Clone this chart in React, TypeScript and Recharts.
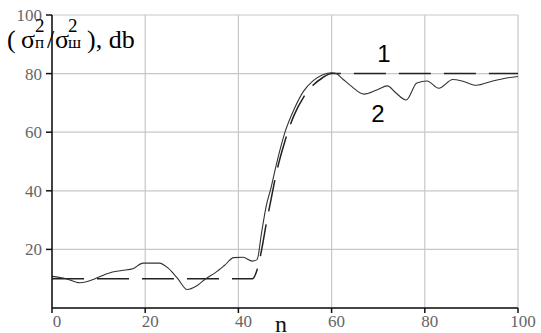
import { LineChart, Line, XAxis, YAxis, CartesianGrid } from "recharts";

// curve 1 (dashed, model)
const N1 = [0, 43, 44, 45, 46, 47, 48, 50, 52, 54, 56, 58, 60, 100];
const DB1 = [10, 10, 13, 20, 29, 37, 45, 57, 66, 72, 76, 78.5, 80, 80];

// curve 2 (solid, measured)
const N2 = [
  0, 3, 6, 9, 11, 13, 15, 17.5, 19.5, 23, 25, 27, 29, 31, 33, 35, 37, 39, 41, 43, 44, 45, 46, 47, 48, 50,
  52, 54, 56, 58, 60, 61, 62.5, 64, 67, 69.7, 72, 73.6, 76, 78.3, 80.5, 83, 86, 88, 91, 94.6, 97.6, 100,
];
const DB2 = [
  10.8, 10, 8.6, 9.8, 11.2, 12.3, 12.8, 13.5, 15.3, 15.3, 13.5, 10, 6.3, 7.5, 10, 12, 14.5, 17.2, 17.3, 16,
  16.5, 26, 35, 41, 48, 60, 68, 74, 77.5, 79.5, 80.3, 80, 78, 76, 73, 74.4, 75.8, 73.7, 71, 76.8, 77.5, 75,
  78, 77.5, 76, 77.5, 78.5, 79,
];

const X_TICKS = [0, 20, 40, 60, 80, 100];
const Y_TICKS = [20, 40, 60, 80, 100];

const model = N1.map((n, i) => ({ n, db: DB1[i] }));
const measured = N2.map((n, i) => ({ n, db: DB2[i] }));

const serif = "Liberation Serif";
const sans = "Liberation Sans";
const tickStyle = { fill: "#666", fontSize: 17, fontFamily: serif, style: { fontFamily: serif } };

export default function App() {
  return (
    <div style={{ position: "absolute", left: 0, top: 0, width: 541, height: 333, background: "#fff" }}>
      <LineChart width={541} height={333} margin={{ top: 15, right: 23, bottom: 0, left: 0 }}>
        <CartesianGrid stroke="#c8c8c8" strokeWidth={1.2} />
        <XAxis
          dataKey="n"
          type="number"
          domain={[0, 100]}
          ticks={X_TICKS}
          height={25}
          stroke="#111"
          strokeWidth={1.5}
          tickSize={5}
          tickMargin={2}
          tick={{ ...tickStyle, dx: 5 }}
          label={{ value: "n", position: "insideBottom", offset: 1, dx: -4, fill: "#111", fontSize: 24, style: { fontFamily: serif } }}
        />
        <YAxis
          type="number"
          domain={[0, 100]}
          ticks={Y_TICKS}
          width={52}
          stroke="#111"
          strokeWidth={1.5}
          tickSize={6}
          tickMargin={4}
          tick={tickStyle}
        />
        <Line
          data={model}
          dataKey="db"
          type="monotone"
          stroke="#222"
          strokeWidth={1.5}
          strokeDasharray="32 13"
          dot={false}
          isAnimationActive={false}
        />
        <Line
          data={measured}
          dataKey="db"
          type="monotone"
          stroke="#333"
          strokeWidth={1.1}
          dot={false}
          isAnimationActive={false}
        />
      </LineChart>
      <svg width={541} height={333} style={{ position: "absolute", left: 0, top: 0, pointerEvents: "none" }}>
        <g style={{ fontFamily: serif }} fill="#000">
          <text x={7} y={48} fontSize={26}>(</text>
          <text x={21} y={48} fontSize={26}>σ</text>
          <text x={35} y={32} fontSize={19}>2</text>
          <text x={35} y={48} fontSize={17}>п</text>
          <text x={47} y={48} fontSize={26}>/</text>
          <text x={55} y={48} fontSize={26}>σ</text>
          <text x={68} y={32} fontSize={19}>2</text>
          <text x={68} y={48} fontSize={17}>ш</text>
          <text x={87} y={48} fontSize={26}>), db</text>
        </g>
        <g style={{ fontFamily: sans }} fill="#000" fontSize={24} textAnchor="middle">
          <text x={384} y={62}>1</text>
          <text x={378} y={122}>2</text>
        </g>
      </svg>
    </div>
  );
}
